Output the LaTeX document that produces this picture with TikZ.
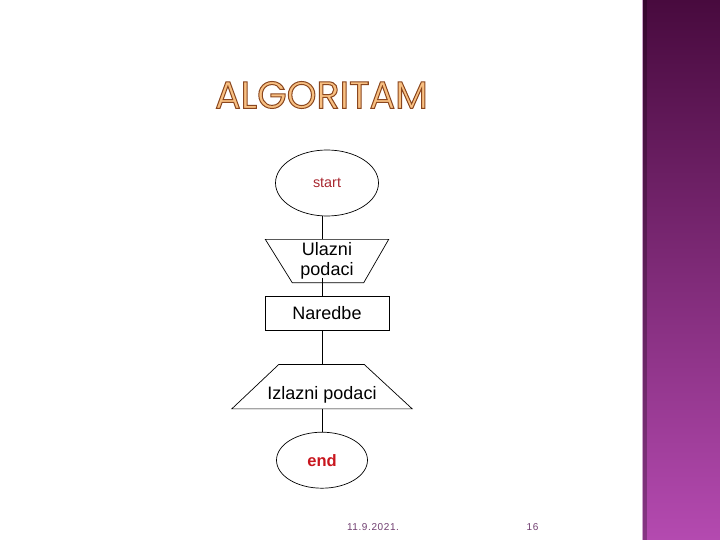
\documentclass[tikz,border=0pt]{standalone}
\usepackage{fontspec}
\setmainfont{Liberation Sans}
\newfontfamily\titlefont{Poppins}
\newfontfamily\datefont[LetterSpace=6]{Liberation Sans}
\usetikzlibrary{positioning,shapes.geometric}
\definecolor{StartRed}{RGB}{168,40,48}
\definecolor{EndRed}{RGB}{200,22,30}
\definecolor{TitleFill}{RGB}{248,192,130}
\definecolor{TitleEdge}{RGB}{138,70,30}
\definecolor{DateViolet}{RGB}{112,62,112}
\definecolor{BarTop}{RGB}{72,10,62}
\definecolor{BarBottom}{RGB}{180,74,176}
\definecolor{BarEdge}{RGB}{205,165,205}
% outlined title letters
\newcommand{\titleword}[1]{{\titlefont\fontsize{38}{40}\selectfont\color{TitleFill}%
  \special{pdf:literal direct 2 Tr 1 w 0.541 0.275 0.118 RG}#1%
  \special{pdf:literal direct 0 Tr}}}
\tikzset{
  link/.style={draw=black,line width=0.7pt},
  oval/.style={ellipse,draw=black,line width=0.7pt,inner sep=0pt},
  iobox/.style={rectangle,inner sep=0pt,font=\fontsize{18}{20}\selectfont},
  cmdbox/.style={rectangle,draw=black,line width=0.7pt,minimum width=124pt,
    minimum height=34pt,font=\fontsize{18}{20}\selectfont},
  footnote/.style={text=DateViolet,inner sep=0pt,font=\datefont\fontsize{10}{12}\selectfont}
}
\begin{document}
\begin{tikzpicture}[x=1pt,y=-1pt]
  \useasboundingbox (0,0) rectangle (720,540);
  % side band
  \shade[top color=BarTop,bottom color=BarBottom] (643,0) rectangle (720,540);
  \fill[black,opacity=0.25] (643,0) rectangle (647,540);
  \draw[BarEdge,line width=1pt] (642.5,0) -- (642.5,540);
  % title
  \node[inner sep=0pt] (title) at (321.5,95) {\titleword{ALGORITAM}};
  % flowchart
  \node[oval,minimum width=103pt,minimum height=66pt,text=StartRed,
    font=\fontsize{14.4}{16}\selectfont] (start) at (327,183) {start};
  \node[iobox,align=center,minimum width=123pt,minimum height=43pt,below=23pt of start] (input)
    {Ulazni\\podaci};
  \draw[link] (input.north west) -- (input.north east) -- ([xshift=-25pt]input.south east)
    -- ([xshift=27pt]input.south west) -- cycle;
  \node[cmdbox,below=13pt of input] (cmd) {Naredbe};
  \node[iobox,minimum width=180pt,minimum height=44pt,below=34pt of cmd,xshift=-5pt] (output)
    {\rule{0pt}{30pt}Izlazni podaci};
  \draw[link] ([xshift=47pt]output.north west) -- ([xshift=-48pt]output.north east)
    -- (output.south east) -- (output.south west) -- cycle;
  \node[oval,minimum width=91pt,minimum height=56pt,text=EndRed,
    font=\fontsize{16.5}{18}\selectfont\bfseries,below=23pt of output] (end) {end};
  \draw[link] ([xshift=-5pt]start.south) -- ([xshift=-5pt]input.north);
  \draw[link] ([xshift=-5pt,yshift=5pt]input.south) -- ([xshift=-5pt]cmd.north);
  \draw[link] ([xshift=-5pt]cmd.south) -- (output.north);
  \draw[link] (output.south) -- (end.north);
  % footer
  \node[footnote] (date) at (373,527) {11.9.2021.};
  \node[footnote] (page) at (532.5,527) {16};
\end{tikzpicture}
\end{document}
